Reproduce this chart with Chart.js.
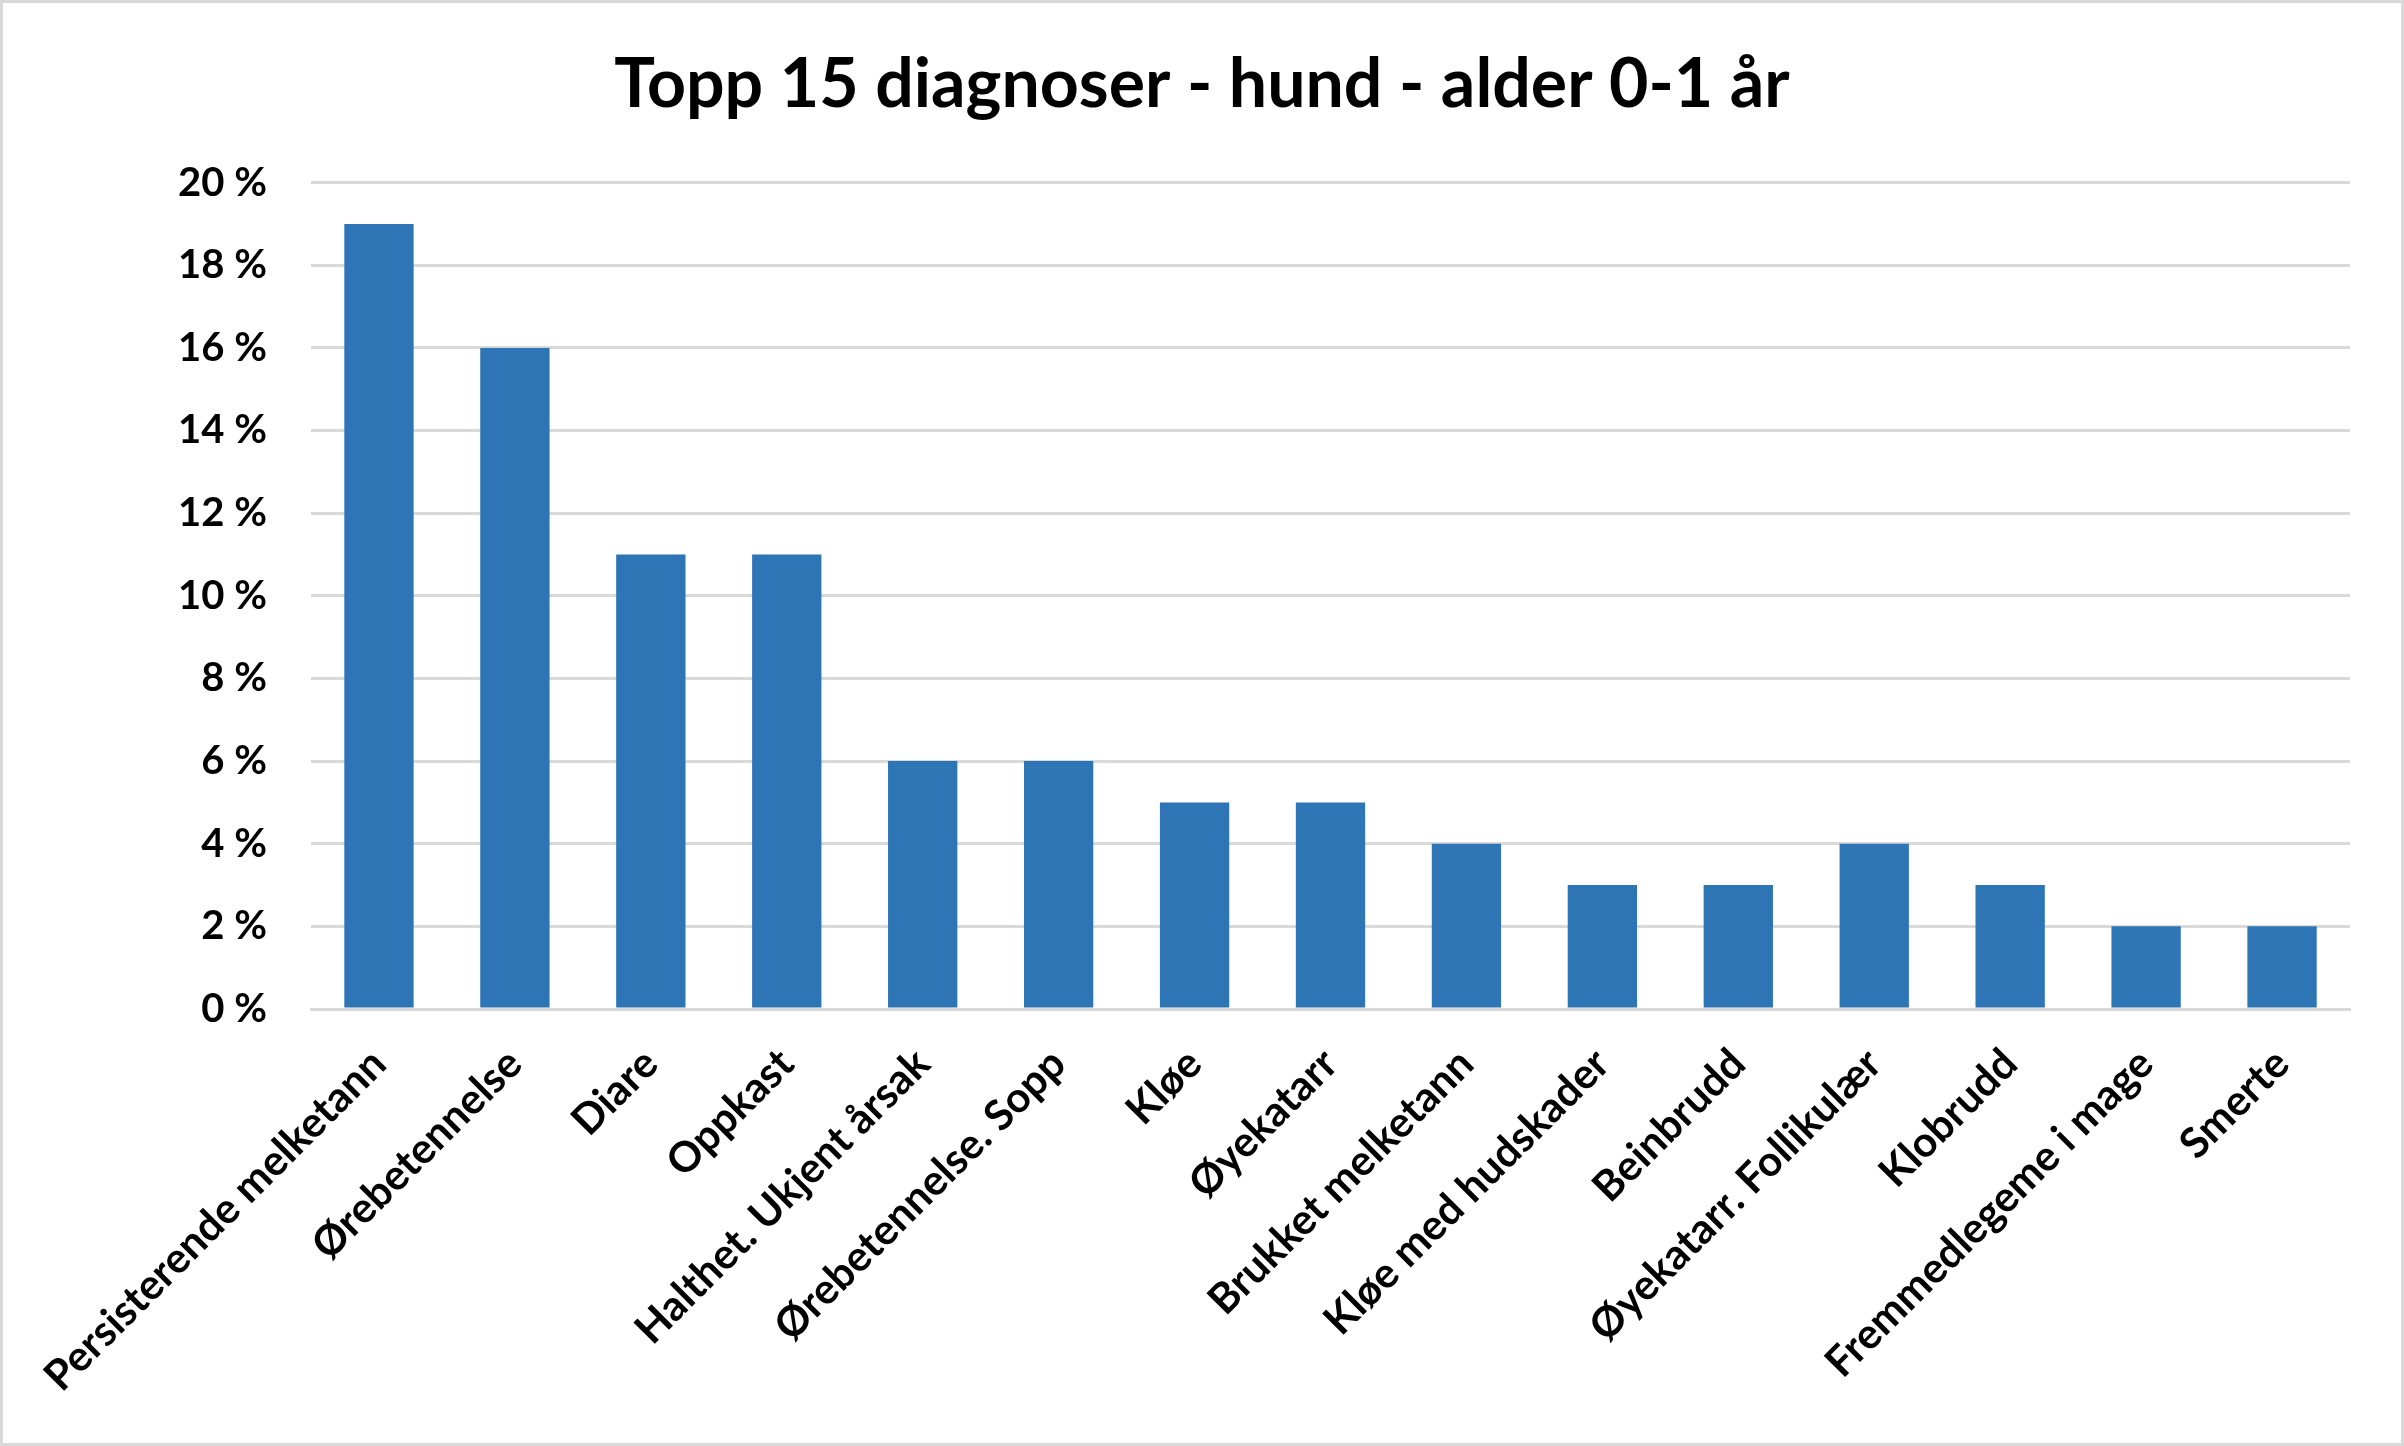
<!DOCTYPE html>
<html>
<head>
<meta charset="utf-8">
<script src="https://cdn.jsdelivr.net/npm/chart.js@4"></script>
<style>
  html, body { margin: 0; padding: 0; background: #fff; }
  #wrap {
    position: absolute; left: 0; top: 0;
    width: 2404px; height: 1446px;
    box-sizing: border-box;
    border: 3px solid #d9d9d9;
    background: #fff;
  }
  #chart { display: block; }
</style>
</head>
<body>
<div id="wrap"><canvas id="chart" width="2398" height="1440"></canvas></div>
<script>
const categories = [
  'Persisterende melketann',
  'Ørebetennelse',
  'Diare',
  'Oppkast',
  'Halthet. Ukjent årsak',
  'Ørebetennelse. Sopp',
  'Kløe',
  'Øyekatarr',
  'Brukket melketann',
  'Kløe med hudskader',
  'Beinbrudd',
  'Øyekatarr. Follikulær',
  'Klobrudd',
  'Fremmedlegeme i mage',
  'Smerte'
];
const shares = [19, 16, 11, 11, 6, 6, 5, 5, 4, 3, 3, 4, 3, 2, 2];
const yTicks = [0, 2, 4, 6, 8, 10, 12, 14, 16, 18, 20];

const font = 'Lato';

new Chart(document.getElementById('chart'), {
  type: 'bar',
  data: {
    labels: categories,
    datasets: [{
      data: shares,
      backgroundColor: '#2e75b6',
      categoryPercentage: 1,
      barPercentage: 0.51
    }]
  },
  options: {
    responsive: false,
    animation: false,
    scales: {
      x: {
        grid: { display: false, drawTicks: false },
        border: { display: true, color: '#d9d9d9', width: 3 },
        ticks: {
          autoSkip: false,
          maxRotation: 45,
          minRotation: 45,
          padding: 30,
          color: '#000',
          font: { family: font, weight: 'bold', size: 42 }
        },
        afterFit: (s) => { s.height = 434; }
      },
      y: {
        min: 0,
        max: 20,
        afterBuildTicks: (s) => { s.ticks = yTicks.map((v) => ({ value: v })); },
        grid: { color: '#d9d9d9', lineWidth: 3, drawTicks: false },
        border: { display: false },
        ticks: {
          padding: 44,
          color: '#000',
          font: { family: font, weight: 'bold', size: 40 },
          callback: (v) => v + ' %'
        },
        afterFit: (s) => { s.width = 308; }
      },
      // empty right-hand spacer so the title stays centred on the whole canvas
      yRight: {
        position: 'right',
        grid: { display: false, drawTicks: false },
        border: { display: false },
        ticks: { display: false },
        afterFit: (s) => { s.width = 51; }
      }
    },
    plugins: {
      legend: { display: false },
      tooltip: { enabled: false },
      title: {
        display: true,
        text: 'Topp 15 diagnoser - hund - alder 0-1 år',
        color: '#000',
        font: { family: font, weight: 'bold', size: 68 },
        padding: { top: 41, bottom: 57 }
      }
    }
  }
});
</script>
</body>
</html>
